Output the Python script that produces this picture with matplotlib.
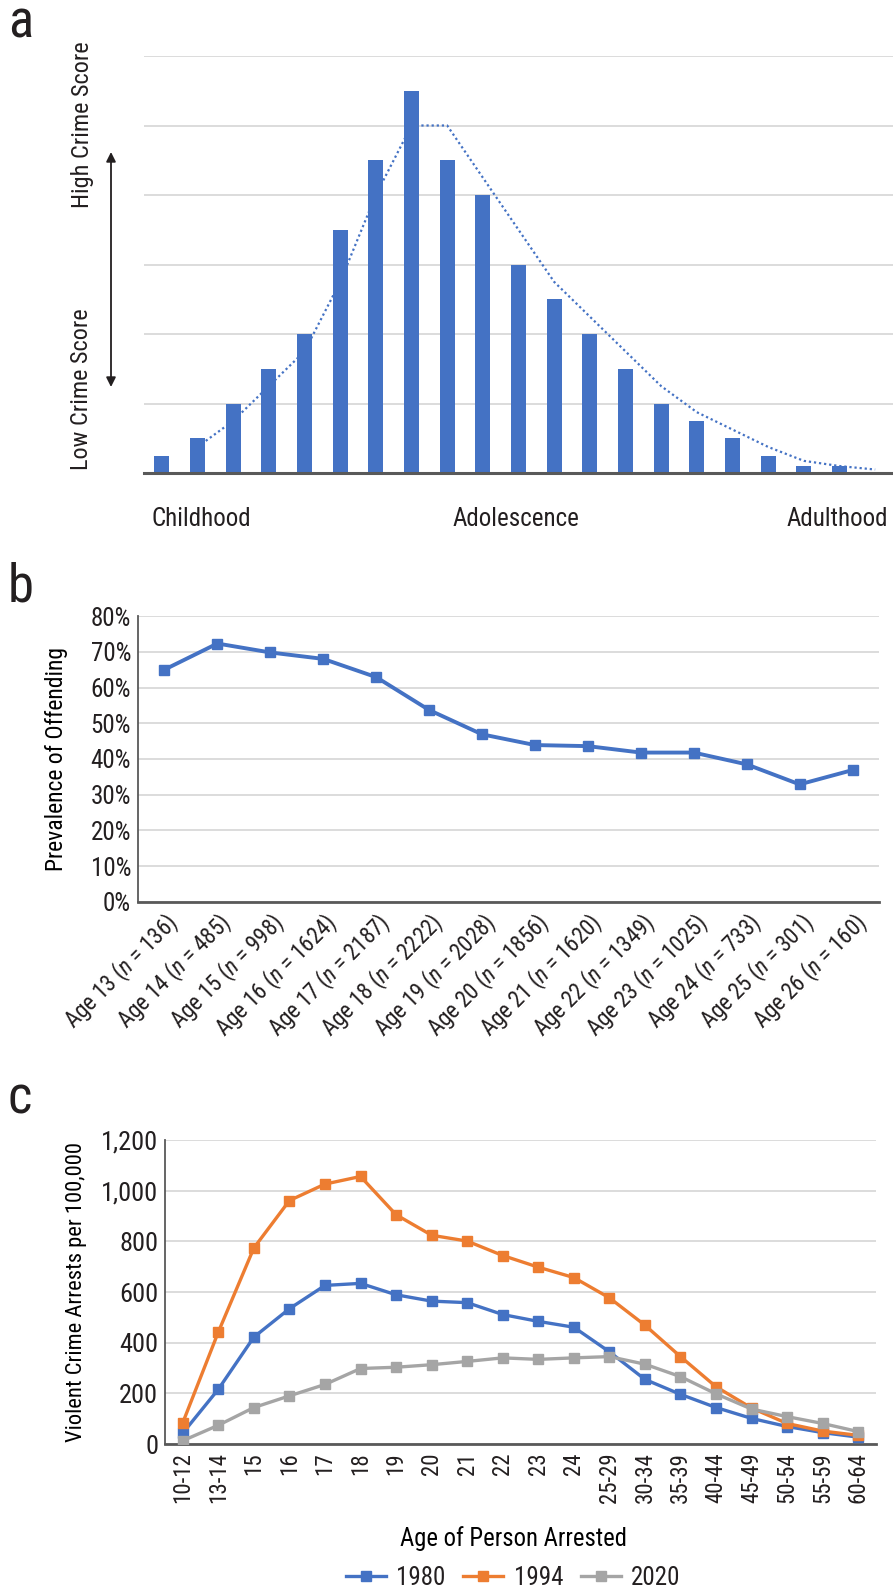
import numpy as np
import pandas as pd
import matplotlib
matplotlib.use("Agg")
import matplotlib.pyplot as plt
from matplotlib import font_manager

# panel a: schematic age-crime curve (bar heights in gridline units)
stage_labels = ["Childhood", "Adolescence", "Adulthood"]
crime_score = [0.25, 0.5, 1.0, 1.5, 2.0, 3.5, 4.5, 5.5, 4.5, 4.0, 3.0,
               2.5, 2.0, 1.5, 1.0, 0.75, 0.5, 0.25, 0.1, 0.1, 0.0]

# panel b: prevalence of offending by age
ages_b = [13, 14, 15, 16, 17, 18, 19, 20, 21, 22, 23, 24, 25, 26]
n_b = [136, 485, 998, 1624, 2187, 2222, 2028, 1856, 1620, 1349, 1025, 733, 301, 160]
prevalence = [65.0, 72.3, 69.8, 68.0, 62.9, 53.7, 46.9, 43.9, 43.6, 41.8, 41.8,
              38.5, 32.9, 36.9]

# panel c: violent crime arrests per 100,000
age_groups = ["10-12", "13-14", "15", "16", "17", "18", "19", "20", "21", "22",
              "23", "24", "25-29", "30-34", "35-39", "40-44", "45-49", "50-54",
              "55-59", "60-64"]
arrests_1980 = [43, 216, 422, 534, 626, 634, 589, 564, 558, 511, 484, 461, 364,
                255, 196, 144, 101, 69, 45, 27]
arrests_1994 = [84, 442, 774, 961, 1026, 1056, 905, 824, 801, 744, 698, 657, 577,
                469, 345, 226, 142, 81, 51, 34]
arrests_2020 = [13, 74, 144, 190, 235, 298, 303, 313, 326, 340, 334, 340, 345,
                315, 266, 198, 138, 108, 81, 49]
years = ["1980", "1994", "2020"]

BLUE = "#4472C4"
ORANGE = "#ED7D31"
GRAY = "#A5A5A5"
GRID = "#D9D9D9"
SPINE = "#595959"
INK = "#231F20"

# a narrow face if one exists, else Arial-like Liberation Sans
installed = {f.name for f in font_manager.fontManager.ttflist}
narrow_name = "Liberation Sans"
for cand in ["Liberation Sans Narrow", "Arial Narrow", "Nimbus Sans Narrow",
             "Roboto Condensed", "Noto Sans Condensed", "Open Sans Condensed"]:
    if cand in installed:
        narrow_name = cand
        break
narrow = [narrow_name, "DejaVu Sans"]

plt.rcParams["font.family"] = narrow
plt.rcParams["text.color"] = INK
plt.rcParams["mathtext.fontset"] = "custom"
plt.rcParams["mathtext.it"] = narrow_name + ":italic"
plt.rcParams["mathtext.rm"] = narrow_name

W, H = 893, 1594
fig = plt.figure(figsize=(W / 100, H / 100), dpi=100)


def box(left, top, right, bottom):
    # pixel box -> figure fraction rect
    return [left / W, 1 - bottom / H, (right - left) / W, (bottom - top) / H]


def style_axes(ax, left_spine=True):
    for s in ["top", "right"]:
        ax.spines[s].set_visible(False)
    ax.spines["left"].set_visible(left_spine)
    ax.spines["left"].set_color(SPINE)
    ax.spines["left"].set_linewidth(1.3)
    ax.spines["bottom"].set_color(SPINE)
    ax.spines["bottom"].set_linewidth(2.0)
    ax.grid(axis="y", color=GRID, linewidth=1.3)
    ax.set_axisbelow(True)
    ax.tick_params(length=0, colors=INK)


# ---- panel a
ax_a = fig.add_axes(box(144, 56, 893, 473))
x_a = np.arange(len(crime_score))
ax_a.bar(x_a, crime_score, width=0.42, color=BLUE, zorder=2)
trend = pd.Series(crime_score).rolling(2).mean()
ax_a.plot(x_a, trend, linestyle=(0, (1, 1.3)), color=BLUE, linewidth=1.6, zorder=3)
ax_a.set_xlim(-0.5, len(crime_score) - 0.5)
ax_a.set_ylim(0, 6)
ax_a.set_yticks(range(0, 7))
ax_a.set_yticklabels([])
ax_a.set_xticks([])
style_axes(ax_a, left_spine=False)
ax_a.spines["bottom"].set_linewidth(2.2)
ax_a.text(0.01, -0.11, stage_labels[0], transform=ax_a.transAxes, fontsize=18,
          ha="left", va="center")
ax_a.text(0.497, -0.11, stage_labels[1], transform=ax_a.transAxes, fontsize=18,
          ha="center", va="center")
ax_a.text(0.994, -0.11, stage_labels[2], transform=ax_a.transAxes, fontsize=18,
          ha="right", va="center")

fig.text(82 / W, 1 - 125 / H, "High Crime Score", rotation=90, fontsize=17.5,
         ha="center", va="center")
fig.text(82 / W, 1 - 389 / H, "Low Crime Score", rotation=90, fontsize=17.5,
         ha="center", va="center")
fig.add_artist(plt.Annotation("", xy=(111 / W, 1 - 152 / H), xytext=(111 / W, 1 - 387 / H),
                              xycoords="figure fraction", textcoords="figure fraction",
                              arrowprops=dict(arrowstyle="<|-|>", color=INK, lw=1.3,
                                              mutation_scale=14, shrinkA=0, shrinkB=0)))

# ---- panel b
ax_b = fig.add_axes(box(138, 616, 879, 902))
x_b = np.arange(len(ages_b))
ax_b.plot(x_b, prevalence, color=BLUE, linewidth=2.8, marker="s", markersize=7, zorder=3)
ax_b.set_xlim(-0.5, len(ages_b) - 0.5)
ax_b.set_ylim(0, 80)
ax_b.set_yticks(range(0, 81, 10))
ax_b.set_yticklabels([f"{v}%" for v in range(0, 81, 10)], fontsize=18)
ax_b.set_xticks(x_b)
ax_b.set_xticklabels([f"Age {a} ($\\mathit{{n}}$ = {n})" for a, n in zip(ages_b, n_b)],
                     rotation=45, ha="right", rotation_mode="anchor", fontsize=16.5)
ax_b.tick_params(axis="x", pad=5)
ax_b.tick_params(axis="y", pad=5)
style_axes(ax_b)
ax_b.set_ylabel("Prevalence of Offending", fontsize=17, va="center")
ax_b.yaxis.set_label_coords(-0.11, 0.5)

# ---- panel c
ax_c = fig.add_axes(box(165, 1140, 876, 1444))
x_c = np.arange(len(age_groups))
for vals, col, yr in zip([arrests_1980, arrests_1994, arrests_2020],
                         [BLUE, ORANGE, GRAY], years):
    ax_c.plot(x_c, vals, color=col, linewidth=2.4, marker="s", markersize=6.8,
              label=yr, zorder=3)
ax_c.set_xlim(-0.5, len(age_groups) - 0.5)
ax_c.set_ylim(0, 1200)
ax_c.set_yticks(range(0, 1201, 200))
ax_c.set_yticklabels([f"{v:,}" for v in range(0, 1201, 200)], fontsize=19)
ax_c.set_xticks(x_c)
ax_c.set_xticklabels(age_groups, rotation=90, fontsize=16.5)
ax_c.tick_params(axis="y", pad=5)
ax_c.tick_params(axis="x", pad=6)
style_axes(ax_c)
ax_c.set_ylabel("Violent Crime Arrests per 100,000", fontsize=16.2, va="center")
ax_c.yaxis.set_label_coords(-0.125, 0.5)
ax_c.set_xlabel("Age of Person Arrested", fontsize=17.7, va="center")
ax_c.xaxis.set_label_coords(0.49, -0.31)
ax_c.legend(loc="center", bbox_to_anchor=(0.49, -0.44), ncol=3, frameon=False,
            fontsize=18, handlelength=1.6, columnspacing=0.7, handletextpad=0.42)

# panel letters
fig.text(8 / W, 1 - 37 / H, "a", fontsize=38, va="baseline")
fig.text(8 / W, 1 - 601 / H, "b", fontsize=38, va="baseline")
fig.text(8 / W, 1 - 1114 / H, "c", fontsize=38, va="baseline")

fig.savefig("out.png", dpi=100)
